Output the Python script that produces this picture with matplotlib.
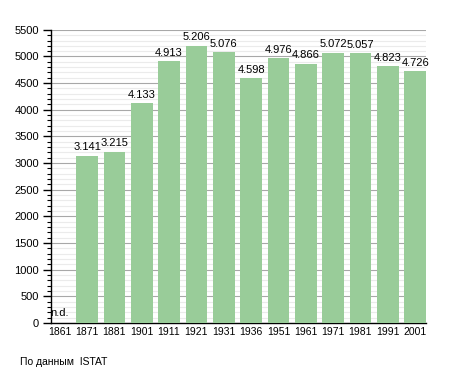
import matplotlib
matplotlib.use("Agg")
import matplotlib.pyplot as plt
from matplotlib.ticker import MultipleLocator

years = ["1861", "1871", "1881", "1901", "1911", "1921", "1931",
         "1936", "1951", "1961", "1971", "1981", "1991", "2001"]
population = [0, 3141, 3215, 4133, 4913, 5206, 5076,
              4598, 4976, 4866, 5072, 5057, 4823, 4726]
bar_labels = ["n.d.", "3.141", "3.215", "4.133", "4.913", "5.206", "5.076",
              "4.598", "4.976", "4.866", "5.072", "5.057", "4.823", "4.726"]

plt.rcParams['font.family'] = ['Liberation Sans', 'DejaVu Sans']

fig = plt.figure(figsize=(4.55, 3.73), dpi=100)
ax = fig.add_axes([0.1114, 0.134, 0.825, 0.786])

x = list(range(len(years)))
ax.bar(x, population, width=0.79, color="#99cc99", zorder=3)

for i, (v, lab) in enumerate(zip(population, bar_labels)):
    if v == 0:
        ax.text(i - 0.33, 90, lab, fontsize=8, ha="left", va="bottom", zorder=4)
    else:
        ax.text(i, v + 60, lab, fontsize=8, ha="center", va="bottom", zorder=4)

ax.set_xlim(-0.33, 13.4)
ax.set_ylim(0, 5500)
ax.set_xticks(x)
ax.set_xticklabels(years)
ax.yaxis.set_major_locator(MultipleLocator(500))
ax.yaxis.set_minor_locator(MultipleLocator(100))

ax.grid(which="major", axis="y", color="#a8a8a8", linewidth=0.8, zorder=1)
ax.grid(which="minor", axis="y", color="#ebebeb", linewidth=0.8, zorder=1)

for s in ["top", "right"]:
    ax.spines[s].set_visible(False)
ax.spines["left"].set_linewidth(1.0)
ax.spines["bottom"].set_linewidth(1.0)

ax.tick_params(axis="y", which="major", length=5.5, width=1, labelsize=8, pad=3)
ax.tick_params(axis="y", which="minor", length=3, width=0.8)
ax.tick_params(axis="x", length=0, labelsize=7.5, pad=3)

fig.text(20 / 455, 1 - 362 / 373, "По данным  ISTAT", fontsize=7.5, va="center")

fig.savefig("out.png", dpi=100)
